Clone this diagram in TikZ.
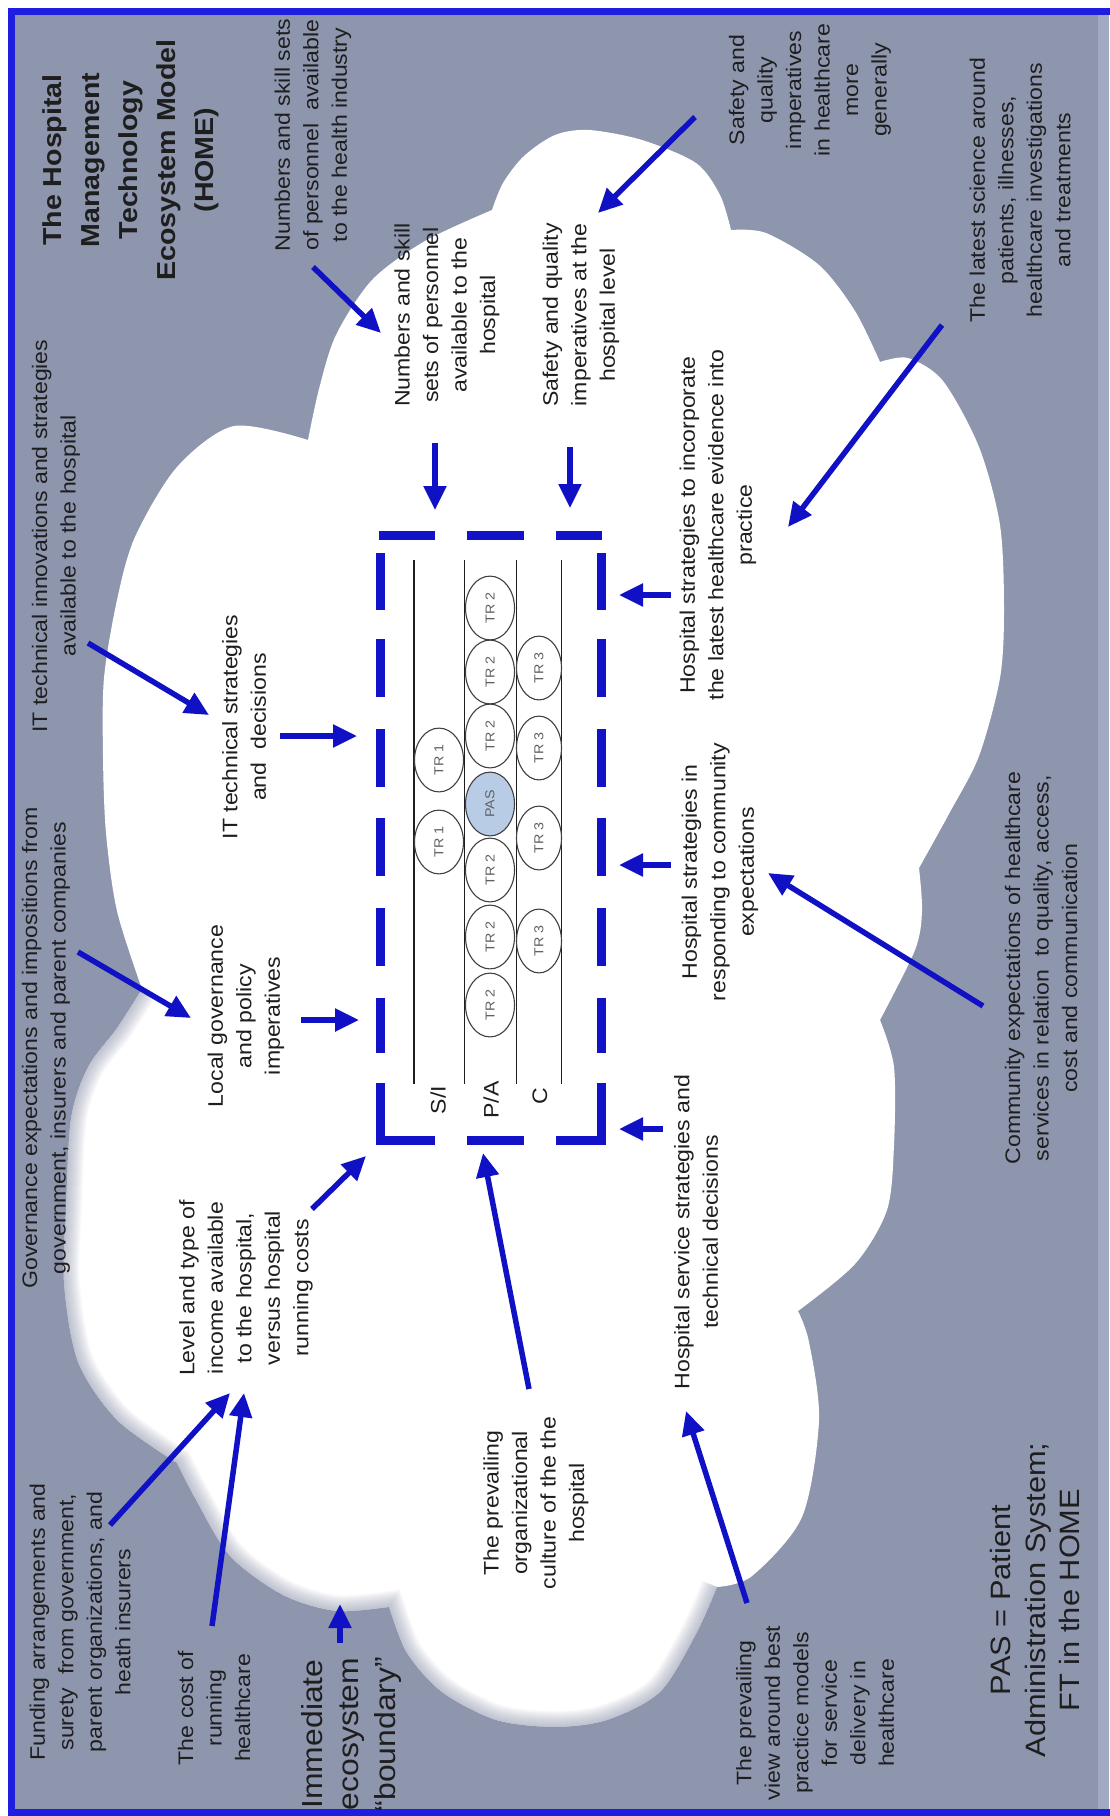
\documentclass[tikz,border=0pt]{standalone}
\usepackage{fontspec}
\setmainfont{Liberation Sans}
\usetikzlibrary{arrows.meta,shapes.geometric}

\definecolor{bggray}{RGB}{142,150,174}
\definecolor{frameblue}{RGB}{30,30,225}
\definecolor{arrowblue}{RGB}{16,16,196}
\definecolor{dashblue}{RGB}{18,18,200}
\definecolor{ink}{RGB}{30,30,30}
\definecolor{pasfill}{RGB}{184,204,230}
\definecolor{edgestrip}{RGB}{162,169,194}

% outline of the ecosystem cloud, lobe by lobe (cusps at the joins)
\newcommand{\cloudpath}{(492,210)
 -- plot[smooth] coordinates {(492,210) (503,183) (524,156) (555,135) (589,130) (642,140) (696,163) (720,195) (731,230)}
 -- plot[smooth] coordinates {(731,230) (766,233) (819,265) (855,311) (880,362)}
 -- plot[smooth] coordinates {(880,362) (908,358) (943,381) (979,447) (1000,525) (1004,610) (1000,678) (979,756) (950,812) (919,868)}
 -- plot[smooth] coordinates {(919,868) (922,911) (915,950) (880,1020)}
 -- plot[smooth] coordinates {(880,1020) (894,1067) (894,1145) (887,1210) (855,1264) (798,1311)}
 -- plot[smooth] coordinates {(798,1311) (809,1342) (819,1420) (802,1517) (752,1576) (717,1587)}
 -- plot[smooth] coordinates {(717,1587) (696,1634) (660,1692) (607,1720) (555,1727) (496,1720) (442,1692) (407,1653) (389,1607)}
 -- plot[smooth] coordinates {(389,1607) (336,1611) (283,1595) (230,1556) (195,1498) (177,1463)}
 -- plot[smooth] coordinates {(177,1463) (117,1420) (78,1362) (64,1284) (66,1206) (71,1118) (88,1067) (117,1028) (142,989)}
 -- plot[smooth] coordinates {(142,989) (117,911) (106,833) (103,756) (104,678) (117,600) (135,537) (177,467) (234,426) (308,440)}
 -- plot[smooth] coordinates {(308,440) (319,389) (336,335) (372,280) (425,241) (492,210)}
 -- cycle}

% lower-left lobes whose edge fades softly into the background
\newcommand{\softrim}{(717,1587)
 -- plot[smooth] coordinates {(717,1587) (696,1634) (660,1692) (607,1720) (555,1727) (496,1720) (442,1692) (407,1653) (389,1607)}
 -- plot[smooth] coordinates {(389,1607) (336,1611) (283,1595) (230,1556) (195,1498) (177,1463)}
 -- plot[smooth] coordinates {(177,1463) (117,1420) (78,1362) (64,1284) (66,1206) (71,1118) (88,1067) (117,1028) (142,989)}}

\tikzset{
  lbl/.style={rotate=90, xscale=1.1, inner sep=0pt, align=center, text=ink,
              font=\fontsize{21}{28.5}\selectfont},
  ttl/.style={lbl, font=\fontsize{26}{38}\selectfont\bfseries},
  bignote/.style={lbl, font=\fontsize{28}{34.5}\selectfont},
  arr/.style={draw=arrowblue, line width=5.5pt, -{Triangle[length=24pt,width=22pt]}},
  boxdash/.style={draw=dashblue, line width=9pt},
  trc/.style={ellipse, draw=ink!85, line width=1.1pt, fill=white, inner sep=0pt,
              minimum width=58pt, minimum height=49pt, rotate=90, xscale=1.1,
              text=ink!70, font=\fontsize{13}{13}\selectfont},
  trcc/.style={trc, minimum height=45pt},
  band/.style={draw=ink, line width=1.1pt},
}

\begin{document}
\begin{tikzpicture}[x=1pt, y=-1pt]
\useasboundingbox (0,0) rectangle (1109,1816);

% page, background and frame
\fill[white] (0,0) rectangle (1109,1816);
\fill[bggray] (11,11) rectangle (1109,1816);
\fill[edgestrip] (1098,11) rectangle (1109,1816);
\draw[frameblue, line width=6.5pt] (11.5,11.5) rectangle (1125,1812.5);

% the cloud
\fill[white] \cloudpath;
\begin{scope}
  \clip \cloudpath;
  \foreach \w in {2,4,...,32}
    \draw[bggray, line width=\w pt, opacity=0.045] \softrim;
\end{scope}

% hospital box: dashed outline
\draw[boxdash] (379,535) -- (435,535);
\draw[boxdash] (467,535) -- (524,535);
\draw[boxdash] (556,535) -- (602,535);
\draw[boxdash] (380,1083) -- (380,1140) -- (435,1140);
\draw[boxdash] (467,1140) -- (524,1140);
\draw[boxdash] (556,1140) -- (601,1140) -- (601,1083);
\foreach \a/\b in {553/610, 639/697, 729/787, 818/876, 908/966, 998/1053} {
  \draw[boxdash] (380,\a) -- (380,\b);
  \draw[boxdash] (601,\a) -- (601,\b);
}

% bands
\foreach \x in {414,464.5,516.5,561.5}
  \draw[band] (\x,560) -- (\x,1084);
\node[lbl] (si) at (438,1100) {S/I};
\node[lbl] (pa) at (491,1100) {P/A};
\node[lbl] (cc) at (540,1096) {C};

% technology resources
\node[trc] (s1) at (439,760) {TR 1};
\node[trc] (s2) at (439,842) {TR 1};
\node[trc] (p1) at (490,608) {TR 2};
\node[trc] (p2) at (490,672) {TR 2};
\node[trc] (p3) at (490,736) {TR 2};
\node[trc, fill=pasfill] (pas) at (490,804) {PAS};
\node[trc] (p5) at (490,870) {TR 2};
\node[trc] (p6) at (490,937) {TR 2};
\node[trc] (p7) at (490,1005) {TR 2};
\node[trcc] (c1) at (539,668) {TR 3};
\node[trcc] (c2) at (539,748) {TR 3};
\node[trcc] (c3) at (539,838) {TR 3};
\node[trcc] (c4) at (539,941) {TR 3};

% labels
\node[ttl] (title) at (131,160) {The Hospital\\Management\\Technology\\Ecosystem Model\\(HOME)};
\node[lbl] (indstaff) at (313,135) {Numbers and skill sets\\of personnel\ \ available\\to the health industry};
\node[lbl] (hospstaff) at (447,315) {Numbers and skill\\sets of personnel\\available to the\\hospital};
\node[lbl] (hospsafety) at (581,315) {Safety and quality\\imperatives at the\\hospital level};
\node[lbl] (gensafety) at (810,90) {Safety and\\quality\\imperatives\\in healthcare\\more\\generally};
\node[lbl] (science) at (1020,190) {The latest science around\\patients, illnesses,\\healthcare investigations\\and treatments};
\node[lbl] (evidence) at (718,525) {Hospital strategies to incorporate\\the latest healthcare evidence into\\practice};
\node[lbl] (community) at (720,872) {Hospital strategies in\\responding to community\\expectations};
\node[lbl] (service) at (696,1232) {Hospital service strategies and\\technical decisions};
\node[lbl] (commexp) at (1041,968) {Community expectations of healthcare\\services in relation\ \ to quality, access,\\cost and communication};
\node[lbl] (itinnov) at (56,536) {IT technical innovations and strategies\\available to the hospital};
\node[lbl] (itstrat) at (244,727) {IT technical strategies\\and\ \ decisions};
\node[lbl] (localgov) at (246,1016) {Local governance\\and policy\\imperatives};
\node[lbl] (govexp) at (46,1048) {Governance expectations and impositions from\\government, insurers and parent companies};
\node[lbl] (income) at (246,1288) {Level and type of\\income available\\to the hospital,\\versus hospital\\running costs};
\node[lbl] (funding) at (80,1622) {Funding arrangements and\\surety\ \ from government,\\parent organizations, and\\heath insurers};
\node[lbl] (cost) at (214,1708) {The cost of\\running\\healthcare};
\node[lbl, font=\fontsize{29}{36.5}\selectfont] (boundary) at (351,1734) {Immediate\\ecosystem\\“boundary”};
\node[lbl] (culture) at (536,1503) {The prevailing\\organizational\\culture of the the\\hospital};
\node[lbl] (bestpractice) at (815,1713) {The prevailing\\view around best\\practice models\\for service\\delivery in\\healthcare};
\node[bignote] (pasnote) at (1035,1600) {PAS = Patient\\Administration System;\\FT in the HOME};

% connector end points
\coordinate (a1s) at (313,267);  \coordinate (a1e) at (381,333);
\coordinate (a2s) at (435,443);  \coordinate (a2e) at (435,510);
\coordinate (a3s) at (570,447);  \coordinate (a3e) at (570,508);
\coordinate (a4s) at (695,117);  \coordinate (a4e) at (598,213);
\coordinate (a5s) at (942,325);  \coordinate (a5e) at (788,527);
\coordinate (a6s) at (671,595);  \coordinate (a6e) at (619,595);
\coordinate (a7s) at (671,865);  \coordinate (a7e) at (619,865);
\coordinate (a8s) at (663,1129); \coordinate (a8e) at (619,1129);
\coordinate (a9s) at (983,1006); \coordinate (a9e) at (768,873);
\coordinate (a10s) at (280,736); \coordinate (a10e) at (357,736);
\coordinate (a11s) at (88,643);  \coordinate (a11e) at (209,715);
\coordinate (a12s) at (301,1020);\coordinate (a12e) at (359,1020);
\coordinate (a13s) at (78,952);  \coordinate (a13e) at (191,1018);
\coordinate (a14s) at (312,1209);\coordinate (a14e) at (366,1156);
\coordinate (a15s) at (110,1525);\coordinate (a15e) at (230,1393);
\coordinate (a16s) at (212,1626);\coordinate (a16e) at (244,1393);
\coordinate (a17s) at (340,1643);\coordinate (a17e) at (340,1604);
\coordinate (a18s) at (529,1389);\coordinate (a18e) at (483,1153);
\coordinate (a19s) at (747,1603);\coordinate (a19e) at (686,1411);

% influences
\foreach \i in {1,...,19}
  \draw[arr] (a\i s) -- (a\i e);
\end{tikzpicture}
\end{document}
